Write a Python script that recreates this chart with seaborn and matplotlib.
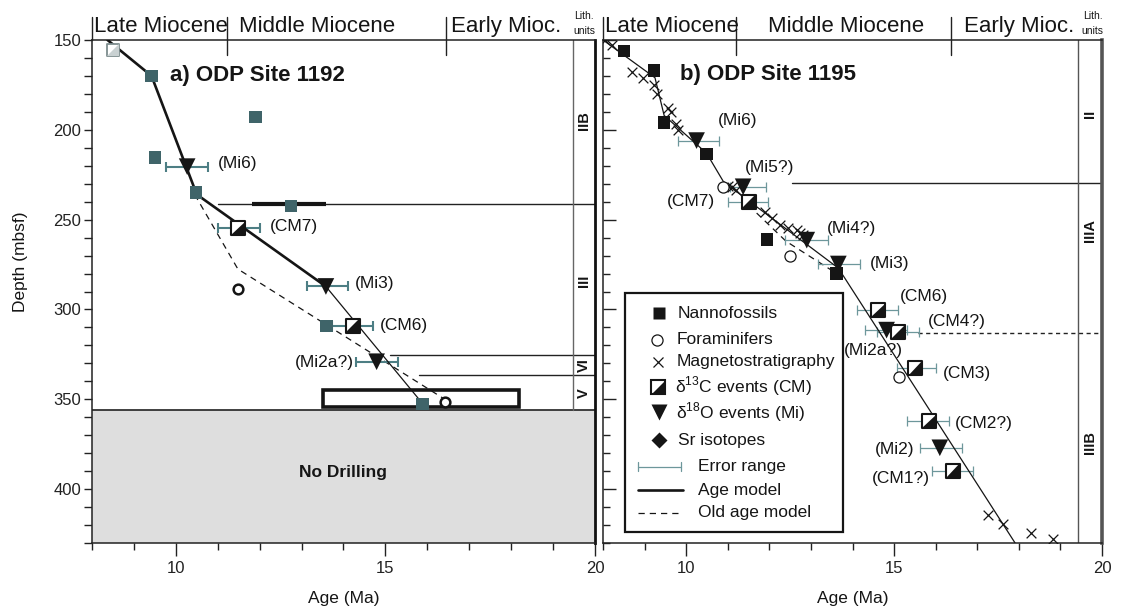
import matplotlib
matplotlib.use("Agg")
import matplotlib.pyplot as plt
import matplotlib.transforms as mtransforms
from matplotlib.patches import Rectangle
from matplotlib.ticker import MultipleLocator
import numpy as np
import seaborn as sns

# ---------------------------------------------------------------- data
# Site 1192
a_nanno_age = [9.42, 11.90, 9.50, 10.48, 12.75, 13.59, 15.89]
a_nanno_depth = [170.0, 193.0, 215.4, 235.0, 242.5, 309.3, 352.5]
a_foram_age = [11.49, 16.41]
a_foram_depth = [288.7, 351.5]
a_d18o_name = ["(Mi6)", "(Mi3)", "(Mi2a?)"]
a_d18o_age = [10.27, 13.58, 14.79]
a_d18o_depth = [220.5, 287.2, 329.1]
a_d18o_lo = [9.76, 13.12, 14.30]
a_d18o_hi = [10.76, 14.11, 15.31]
a_d13c_name = ["(CM7)", "(CM6)"]
a_d13c_age = [11.49, 14.22]
a_d13c_depth = [254.7, 309.0]
a_d13c_lo = [11.00, 13.72]
a_d13c_hi = [12.00, 14.70]
a_top_age = [8.50]
a_top_depth = [155.5]
a_model_age = [8.37, 9.42, 10.50, 13.58]
a_model_depth = [150.0, 170.0, 236.0, 287.2]
a_model2_age = [13.58, 15.89]
a_model2_depth = [287.2, 352.5]
a_old_age = [10.45, 11.48, 16.45]
a_old_depth = [236.0, 277.5, 350.5]
a_bar_age = [11.81, 13.58]
a_bar_depth = 241.2
a_box_age = [13.51, 18.18]
a_box_depth = [345.0, 354.5]
a_lith_depth = [241.2, 325.4, 336.5]
a_lith_start = [11.00, 15.11, 15.79]
a_lith_name = ["IIB", "III", "VI", "V"]
a_lith_mid = [195.0, 284.0, 331.0, 346.5]
a_nodrill_top = 356.0

# Site 1195
b_nanno_age = [8.50, 9.23, 9.47, 10.49, 11.94, 13.62]
b_nanno_depth = [156.0, 167.0, 196.0, 213.5, 261.0, 280.0]
b_foram_age = [10.89, 12.50, 15.13]
b_foram_depth = [231.7, 270.3, 337.8]
b_mag_age = [8.05, 8.22, 8.70, 8.96, 9.23, 9.30, 9.56, 9.64, 9.75, 9.80,
             11.00, 11.10, 11.20, 11.90, 12.06, 12.26, 12.46, 12.66, 12.74,
             12.82, 17.27, 17.63, 18.29, 18.81]
b_mag_depth = [150.0, 153.0, 168.0, 171.0, 175.0, 180.0, 188.0, 190.0, 197.0,
               200.0, 231.0, 232.0, 233.5, 245.6, 249.3, 253.0, 254.9, 255.8,
               257.6, 258.6, 414.5, 419.5, 424.3, 428.0]
b_d18o_name = ["(Mi6)", "(Mi5?)", "(Mi4?)", "(Mi3)", "(Mi2a?)", "(Mi2)"]
b_d18o_age = [10.25, 11.37, 12.90, 13.66, 14.82, 16.10]
b_d18o_depth = [206.0, 231.7, 261.4, 274.7, 311.5, 377.0]
b_d18o_lo = [9.80, 11.05, 12.38, 13.17, 14.30, 15.62]
b_d18o_hi = [10.80, 11.91, 13.40, 14.18, 15.30, 16.63]
b_d13c_name = ["(CM7)", "(CM6)", "(CM4?)", "(CM3)", "(CM2?)", "(CM1?)"]
b_d13c_age = [11.50, 14.62, 15.10, 15.50, 15.85, 16.42]
b_d13c_depth = [240.0, 300.3, 312.4, 332.8, 362.0, 389.8]
b_d13c_lo = [11.00, 14.10, 14.60, 15.06, 15.30, 15.90]
b_d13c_hi = [11.97, 15.10, 15.60, 16.02, 16.33, 16.90]
b_model_age = [8.00, 9.25, 9.47, 10.49, 10.90, 13.66, 17.91]
b_model_depth = [150.0, 171.0, 192.0, 213.0, 229.0, 277.0, 430.0]
b_old_age = [11.50, 12.40, 13.62]
b_old_depth = [242.0, 262.0, 280.0]
b_lith_depth = [229.8, 313.3]
b_lith_start = [12.54, 15.58]
b_lith_name = ["II", "IIIA", "IIIB"]
b_lith_mid = [191.0, 256.0, 374.0]

# event label anchors (age, depth, alignment)
a_label_pos = {"(Mi6)": (11.01, 218.7, "left"), "(Mi3)": (14.28, 285.5, "left"),
               "(Mi2a?)": (14.24, 329.3, "right"), "(CM7)": (12.25, 254.0, "left"),
               "(CM6)": (14.86, 308.7, "left")}
b_label_pos = {"(Mi6)": (10.77, 195.0, "left"), "(Mi5?)": (11.41, 221.0, "left"),
               "(Mi4?)": (13.38, 254.7, "left"), "(Mi3)": (14.42, 274.3, "left"),
               "(Mi2a?)": (13.80, 322.6, "left"), "(Mi2)": (15.50, 377.7, "right"),
               "(CM7)": (10.69, 240.0, "right"), "(CM6)": (15.14, 293.0, "left"),
               "(CM4?)": (15.82, 306.8, "left"), "(CM3)": (16.17, 335.4, "left"),
               "(CM2?)": (16.47, 363.4, "left"), "(CM1?)": (15.86, 393.9, "right")}

# ---------------------------------------------------------------- style
sns.set_theme(style="ticks")
plt.rcParams["font.family"] = ["Liberation Sans", "DejaVu Sans"]
plt.rcParams["mathtext.fontset"] = "custom"
plt.rcParams["mathtext.rm"] = "Liberation Sans"

TEAL = "#3f6469"
ERR_A = "#4d7e84"
ERR_B = "#6d979b"
INK = "#151515"
HALF = [(-1, -1), (1, -1), (1, 1)]

FW, FH = 1123, 610
fig = plt.figure(figsize=(FW / 100, FH / 100), dpi=100)
ax_a = fig.add_axes([92 / FW, 67 / FH, 503 / FW, 503 / FH])
ax_b = fig.add_axes([603 / FW, 67 / FH, 499 / FW, 503 / FH])


def style_axes(ax, left_labels):
    ax.set_xlim(8, 20)
    ax.set_ylim(430, 150)
    ax.xaxis.set_major_locator(MultipleLocator(5))
    ax.xaxis.set_minor_locator(MultipleLocator(1))
    ax.yaxis.set_major_locator(MultipleLocator(50))
    ax.yaxis.set_minor_locator(MultipleLocator(10))
    ax.tick_params(axis="x", which="major", direction="out", length=9.4,
                   width=1, labelsize=12, pad=3.5, colors="#222")
    ax.tick_params(axis="x", which="minor", direction="out", length=5,
                   width=1, colors="#222")
    if left_labels:
        ax.tick_params(axis="y", which="both", direction="out", length=5.8,
                       width=1, labelsize=12, pad=2, colors="#222")
    else:
        ax.tick_params(axis="y", which="major", direction="in", length=9.4,
                       width=1, labelleft=False, colors="#222")
        ax.tick_params(axis="y", which="minor", direction="in", length=5,
                       width=1, colors="#222")
    for sp in ax.spines.values():
        sp.set_visible(True)
        sp.set_color("#222")
        sp.set_linewidth(1.1)
    ax.grid(False)
    ax.set_xlabel("Age (Ma)", fontsize=12.5, color=INK)
    ax.xaxis.set_label_coords(0.5, -0.095)
    ax.xaxis.label.set_va("top")


def header(ax, labels, dividers, lith_x):
    tr = mtransforms.blended_transform_factory(ax.transData, ax.transAxes)
    up, down = 23 / 503, 15 / 503
    ax.plot([8.0, 8.0], [1.0, 1.0 + up], transform=tr, clip_on=False,
            color="#222", lw=1)
    for d in dividers:
        ax.plot([d, d], [1.0 - down, 1.0 + up], transform=tr, clip_on=False,
                color="#222", lw=1)
    for text, x, ha in labels:
        ax.text(x, 1.0 + 8 / 503, text, transform=tr, ha=ha, va="baseline",
                fontsize=16, color=INK)
    ax.text(lith_x, 1.0 + 24 / 503, "Lith.", transform=tr, ha="center",
            va="center", fontsize=7.5, color=INK)
    ax.text(lith_x, 1.0 + 8.5 / 503, "units", transform=tr, ha="center",
            va="center", fontsize=7.5, color=INK)


def errbars(ax, age, depth, lo, hi, color, lw):
    age = np.asarray(age)
    xerr = [age - np.asarray(lo), np.asarray(hi) - age]
    ax.errorbar(age, depth, xerr=xerr, fmt="none", ecolor=color,
                elinewidth=lw, capsize=3.35, capthick=lw, zorder=3)


def half_squares(ax, age, depth, ms=10.5, edge=INK, fill=INK, lw=1.5):
    sns.scatterplot(x=age, y=depth, ax=ax, marker="s", s=ms ** 2,
                    color="white", edgecolor=edge, linewidth=lw, zorder=5,
                    legend=False)
    sns.scatterplot(x=age, y=depth, ax=ax, marker=HALF, s=ms ** 2,
                    color=fill, edgecolor="none", linewidth=0, zorder=6,
                    legend=False)


def triangles(ax, age, depth):
    sns.scatterplot(x=age, y=depth, ax=ax, marker="v", s=12 ** 2, color=INK,
                    edgecolor="none", linewidth=0, zorder=6, legend=False)


def event_labels(ax, names, ages, depths, pos):
    for n in names:
        x, y, ha = pos[n]
        ax.text(x, y, n, ha=ha, va="center", fontsize=12.5, color=INK,
                zorder=7)


# ---------------------------------------------------------------- panel a
ax = ax_a
style_axes(ax, True)
ax.set_ylabel("Depth (mbsf)", fontsize=12.5, color=INK)
ax.yaxis.set_label_coords(-0.128, 0.559)

ax.axhspan(a_nodrill_top, 430, color="#dedede", zorder=1)
ax.axhline(a_nodrill_top, color="#222", lw=1.2, zorder=2)
ax.text(14.0, 391, "No Drilling", ha="center", va="center", fontsize=12.5,
        fontweight="bold", color=INK)

for d, s in zip(a_lith_depth, a_lith_start):
    ax.plot([s, 20], [d, d], color="#222", lw=1, zorder=2)
ax.plot([19.48, 19.48], [150, a_nodrill_top], color="#666", lw=1, zorder=2)
for n, m in zip(a_lith_name, a_lith_mid):
    ax.text(19.74, m, n, rotation=90, ha="center", va="center", fontsize=10.5,
            fontweight="bold", color=INK)

ax.plot(a_bar_age, [a_bar_depth, a_bar_depth], color=INK, lw=3, zorder=3,
        solid_capstyle="butt")
ax.add_patch(Rectangle((a_box_age[0], a_box_depth[0]),
                       a_box_age[1] - a_box_age[0],
                       a_box_depth[1] - a_box_depth[0],
                       fill=False, edgecolor=INK, lw=2.6, zorder=3))

sns.lineplot(x=a_old_age, y=a_old_depth, ax=ax, sort=False, estimator=None,
             color=INK, lw=0.9, linestyle=(0, (5, 4)), zorder=3)
sns.lineplot(x=a_model_age, y=a_model_depth, ax=ax, sort=False,
             estimator=None, color=INK, lw=1.9, zorder=4)
sns.lineplot(x=a_model2_age, y=a_model2_depth, ax=ax, sort=False,
             estimator=None, color=INK, lw=0.9, zorder=4)

errbars(ax, a_d18o_age, a_d18o_depth, a_d18o_lo, a_d18o_hi, ERR_A, 1.5)
errbars(ax, a_d13c_age, a_d13c_depth, a_d13c_lo, a_d13c_hi, ERR_A, 1.5)

sns.scatterplot(x=a_nanno_age, y=a_nanno_depth, ax=ax, marker="s", s=9 ** 2,
                color=TEAL, edgecolor="none", linewidth=0, zorder=6,
                legend=False)
sns.scatterplot(x=a_foram_age, y=a_foram_depth, ax=ax, marker="o", s=7 ** 2,
                color="white", edgecolor=INK, linewidth=1.8, zorder=6,
                legend=False)
half_squares(ax, a_top_age, a_top_depth, ms=9, edge="#7d8c8e",
             fill="#c9d1d2", lw=1.3)
half_squares(ax, a_d13c_age, a_d13c_depth)
triangles(ax, a_d18o_age, a_d18o_depth)
event_labels(ax, a_d18o_name, a_d18o_age, a_d18o_depth, a_label_pos)
event_labels(ax, a_d13c_name, a_d13c_age, a_d13c_depth, a_label_pos)

ax.text(9.86, 170, "a) ODP Site 1192", ha="left", va="center", fontsize=16,
        fontweight="bold", color=INK)
ax.spines["right"].set_linewidth(2.0)
ax.spines["right"].set_color("#111")
header(ax, [("Late Miocene", 8.05, "left"), ("Middle Miocene", 13.38, "center"),
            ("Early Mioc.", 17.88, "center")], [11.21, 16.44], 19.74)
ax.set_xlim(8, 20)
ax.set_ylim(430, 150)

# ---------------------------------------------------------------- panel b
ax = ax_b
style_axes(ax, False)
ax.set_ylabel("")

ax.plot([b_lith_start[0], 20], [b_lith_depth[0]] * 2, color="#222", lw=1,
        zorder=2)
ax.plot([b_lith_start[1], 20], [b_lith_depth[1]] * 2, color="#222", lw=1,
        linestyle=(0, (3, 2.5)), zorder=2)
ax.plot([19.42, 19.42], [150, 430], color="#555", lw=1, zorder=2)
for n, m in zip(b_lith_name, b_lith_mid):
    ax.text(19.71, m, n, rotation=90, ha="center", va="center", fontsize=10.5,
            fontweight="bold", color=INK)

sns.lineplot(x=b_old_age, y=b_old_depth, ax=ax, sort=False, estimator=None,
             color=INK, lw=0.9, linestyle=(0, (5, 4)), zorder=3)
sns.lineplot(x=b_model_age, y=b_model_depth, ax=ax, sort=False,
             estimator=None, color=INK, lw=0.9, zorder=4)

errbars(ax, b_d18o_age, b_d18o_depth, b_d18o_lo, b_d18o_hi, ERR_B, 0.9)
errbars(ax, b_d13c_age, b_d13c_depth, b_d13c_lo, b_d13c_hi, ERR_B, 0.9)

sns.scatterplot(x=b_mag_age, y=b_mag_depth, ax=ax, marker="x", s=7 ** 2,
                color=INK, linewidth=0.9, zorder=5, legend=False)
sns.scatterplot(x=b_foram_age, y=b_foram_depth, ax=ax, marker="o", s=8 ** 2,
                color="white", edgecolor=INK, linewidth=0.9, zorder=6,
                legend=False)
sns.scatterplot(x=b_nanno_age, y=b_nanno_depth, ax=ax, marker="s", s=9 ** 2,
                color=INK, edgecolor="none", linewidth=0, zorder=6,
                legend=False)
half_squares(ax, b_d13c_age, b_d13c_depth)
triangles(ax, b_d18o_age, b_d18o_depth)
event_labels(ax, b_d18o_name, b_d18o_age, b_d18o_depth, b_label_pos)
event_labels(ax, b_d13c_name, b_d13c_age, b_d13c_depth, b_label_pos)

ax.text(9.85, 169, "b) ODP Site 1195", ha="left", va="center", fontsize=16,
        fontweight="bold", color=INK)
ax.spines["right"].set_linewidth(2.6)
ax.spines["right"].set_color("#555")
header(ax, [("Late Miocene", 8.05, "left"), ("Middle Miocene", 13.84, "center"),
            ("Early Mioc.", 18.0, "center")], [11.20, 16.37], 19.78)

# legend box drawn in axes fraction
def fx(px):
    return (px - 603) / 499


def fy(py):
    return (543 - py) / 503


T = ax.transAxes
ax.add_patch(Rectangle((fx(625), fy(532)), fx(843) - fx(625),
                       fy(293) - fy(532), transform=T, facecolor="white",
                       edgecolor=INK, lw=1.6, zorder=8))
ax.plot(fx(659), fy(313.3), "s", ms=9, color=INK, mec="none", transform=T,
        zorder=9)
ax.plot(fx(657), fy(340), "o", ms=8, mfc="white", mec=INK, mew=0.9,
        transform=T, zorder=9)
ax.plot(fx(658), fy(361.7), "x", ms=7, color=INK, mew=0.9, transform=T,
        zorder=9)
ax.plot(fx(658), fy(386.7), "s", ms=10.5, mfc="white", mec=INK, mew=1.5,
        transform=T, zorder=9)
ax.plot(fx(658), fy(386.7), marker=HALF, ms=10.5, color=INK, mec="none",
        transform=T, zorder=10)
ax.plot(fx(659), fy(411.7), "v", ms=12, color=INK, mec="none", transform=T,
        zorder=9)
ax.plot(fx(659), fy(440), "D", ms=8, color=INK, mec="none", transform=T,
        zorder=9)
ey = fy(466.7)
ax.plot([fx(638), fx(681)], [ey, ey], color=ERR_B, lw=0.9, transform=T,
        zorder=9)
for cx in (fx(638), fx(681)):
    ax.plot([cx, cx], [ey - 4.5 / 503, ey + 4.5 / 503], color=ERR_B, lw=0.9,
            transform=T, zorder=9)
ax.plot([fx(638), fx(683)], [fy(490), fy(490)], color=INK, lw=1.9,
        transform=T, zorder=9)
ax.plot([fx(638), fx(683)], [fy(513), fy(513)], color=INK, lw=0.9,
        linestyle=(0, (5, 4)), transform=T, zorder=9)

legend_text = [
    (678, 313.3, "Nannofossils"),
    (677, 340, "Foraminifers"),
    (677, 361.7, "Magnetostratigraphy"),
    (675, 386.7, r"δ$^{\mathregular{13}}$C events (CM)"),
    (676, 411.7, r"δ$^{\mathregular{18}}$O events (Mi)"),
    (678, 440, "Sr isotopes"),
    (698, 466.7, "Error range"),
    (698, 490, "Age model"),
    (698, 513, "Old age model"),
]
for px, py, t in legend_text:
    ax.text(fx(px), fy(py), t, transform=T, ha="left", va="center",
            fontsize=12.5, color=INK, zorder=10)

ax.set_xlim(8, 20)
ax.set_ylim(430, 150)

fig.savefig("out.png", dpi=100)
